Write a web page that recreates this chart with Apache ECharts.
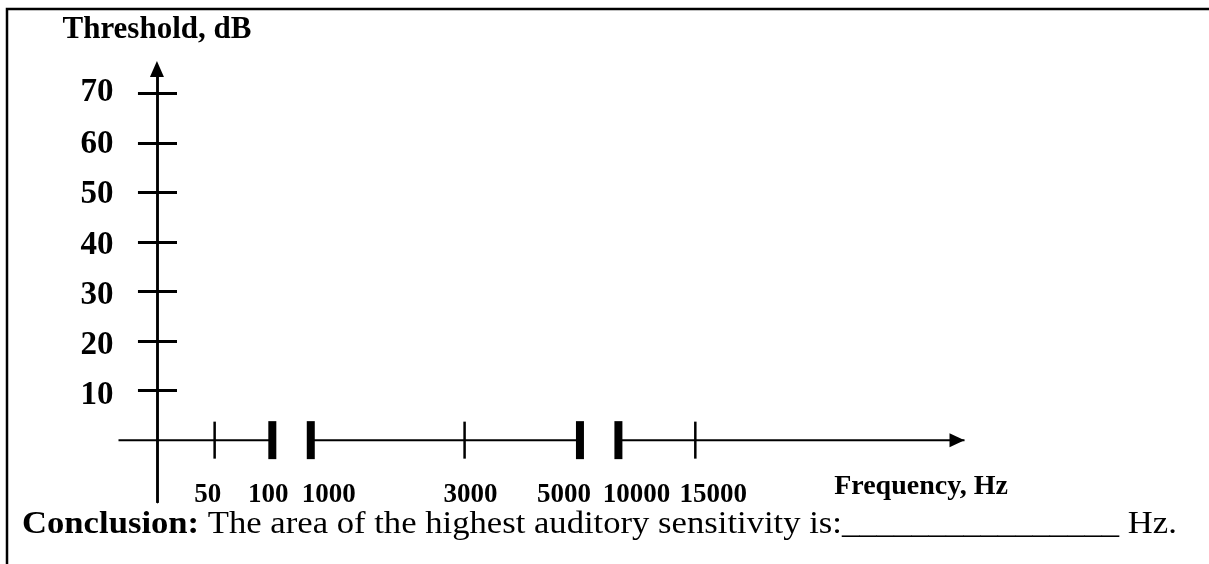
<!DOCTYPE html>
<html><head><meta charset="utf-8">
<script src="https://cdn.jsdelivr.net/npm/echarts@6/dist/echarts.min.js"></script>
<style>html,body{margin:0;padding:0;background:#fff}#c{width:1209px;height:564px}</style>
</head><body><div id="c"></div>
<script>
// ---- data ----
const yTickValues = [10, 20, 30, 40, 50, 60, 70];
const freqLabels = ['50', '100', '1000', '3000', '5000', '10000', '15000'];
const freqSlots = [1.5, 3, 4, 8, 11, 12, 14];           // schematic (broken) axis slots
const breakTicks = ['100', '1000', '5000', '10000'];    // thick break marks
const axisBreaks = [['100', '1000'], ['5000', '10000']];
const xAxisStart = -1, xAxisEnd = 21;
const yAxisMin = -12.5, yAxisMax = 75;
const yTitle = 'Threshold, dB';
const xTitle = 'Frequency, Hz';
const conclusionLead = 'Conclusion:';
const conclusionText = ' The area of the highest auditory sensitivity is:________________ Hz.';

// ---- layout / style (label nudges in px, as typeset in the original) ----
const FONT = '"Liberation Serif", "Times New Roman", serif';
const xLabelNudge = [-7, -4, 18, 6, -16, 18, 18];   // horizontal
const yLabelNudge = [5, 4, 4, 3, 2, 1, -1];         // vertical, for 10..70

// ---- helpers ----
const slotOf = l => freqSlots[freqLabels.indexOf(l)];
const idxOf = v => freqSlots.indexOf(v);

const stops = [xAxisStart];
axisBreaks.forEach(b => { stops.push(slotOf(b[0]), slotOf(b[1])); });
stops.push(xAxisEnd);
const segSeries = [];
for (let i = 0; i < stops.length; i += 2) {
  segSeries.push({
    type: 'line', xAxisIndex: 0, yAxisIndex: 0, silent: true, symbol: 'none',
    lineStyle: { color: '#000', width: 2 },
    data: [[stops[i], 0], [stops[i + 1], 0]], z: 3
  });
}
const thinTicks = freqLabels.filter(l => breakTicks.indexOf(l) < 0);

const xRich = {};
xLabelNudge.forEach((n, i) => {
  xRich['s' + i] = {
    fontFamily: FONT, fontWeight: 'bold', fontSize: 27, color: '#000',
    padding: n >= 0 ? [0, 0, 0, 2 * n] : [0, -2 * n, 0, 0]
  };
});
const yRich = {};
yLabelNudge.forEach((n, i) => {
  yRich['t' + i] = {
    fontFamily: FONT, fontWeight: 'bold', fontSize: 33, color: '#000',
    padding: n >= 0 ? [2 * n, 0, 0, 0] : [0, 0, -2 * n, 0]
  };
});

const chart = echarts.init(document.getElementById('c'), null, { renderer: 'canvas' });
chart.setOption({
  animation: false,
  backgroundColor: '#fff',
  grid: { left: 118.5, right: 244.5, top: 69, bottom: 62, containLabel: false },
  xAxis: [{
    type: 'value', min: xAxisStart, max: xAxisEnd, position: 'bottom',
    axisLine: { show: false, onZero: false },
    axisTick: { show: false },
    splitLine: { show: false },
    axisLabel: {
      customValues: freqSlots,
      formatter: v => { const i = idxOf(v); return i < 0 ? '' : '{s' + i + '|' + freqLabels[i] + '}'; },
      rich: xRich,
      margin: -20, color: '#000', fontFamily: FONT, fontWeight: 'bold', fontSize: 27
    }
  }],
  yAxis: [{
    type: 'value', min: yAxisMin, max: yAxisMax, position: 'left', offset: 0,
    name: yTitle, nameLocation: 'end', nameGap: 24,
    nameTextStyle: { color: '#000', fontFamily: FONT, fontWeight: 'bold', fontSize: 31 },
    axisLine: { show: true, onZero: true, symbol: ['none', 'triangle'], symbolSize: [14, 16],
      lineStyle: { color: '#000', width: 2.5 } },
    axisTick: { show: true, customValues: yTickValues, length: 19, lineStyle: { color: '#000', width: 3 } },
    splitLine: { show: false },
    axisLabel: {
      customValues: yTickValues, margin: 5, color: '#000', fontFamily: FONT, fontWeight: 'bold', fontSize: 33,
      formatter: v => { const i = yTickValues.indexOf(v); return i < 0 ? '' : '{t' + i + '|' + v + '}'; },
      rich: yRich
    }
  }, {
    type: 'value', min: yAxisMin, max: yAxisMax, position: 'left', offset: -38.5,
    axisLine: { show: true, onZero: false, lineStyle: { color: '#000', width: 2.5 } },
    axisTick: { show: true, inside: true, customValues: yTickValues, length: 20, lineStyle: { color: '#000', width: 3 } },
    splitLine: { show: false },
    axisLabel: { show: false }
  }],
  series: segSeries.concat([
    { type: 'scatter', silent: true, symbol: 'rect', symbolSize: [2.5, 37],
      itemStyle: { color: '#000', opacity: 1 }, data: thinTicks.map(l => [slotOf(l), 0]), z: 4 },
    { type: 'scatter', silent: true, symbol: 'rect', symbolSize: [8, 38],
      itemStyle: { color: '#000', opacity: 1 }, data: breakTicks.map(l => [slotOf(l), 0]), z: 4 },
    { type: 'scatter', silent: true, symbol: 'triangle', symbolSize: [14, 15], symbolRotate: -90,
      symbolOffset: [-7.5, 0], itemStyle: { color: '#000', opacity: 1 }, data: [[xAxisEnd, 0]], z: 4 }
  ]),
  graphic: [
    { type: 'polyline', silent: true, shape: { points: [[7, 564], [7, 9], [1209, 9]] },
      style: { stroke: '#000', lineWidth: 2.5, fill: null } },
    { type: 'text', silent: true, x: 921, y: 487,
      style: { text: xTitle, font: 'bold 28px ' + FONT, align: 'center', verticalAlign: 'middle', fill: '#000' } },
    { type: 'text', silent: true, x: 22, y: 525, scaleX: 1.1, scaleY: 1,
      style: { text: '{b|' + conclusionLead + '}{r|' + conclusionText + '}', verticalAlign: 'middle', align: 'left',
        rich: { b: { font: 'bold 31.5px ' + FONT, fill: '#000' }, r: { font: '31.5px ' + FONT, fill: '#000' } } } }
  ]
});
</script></body></html>
